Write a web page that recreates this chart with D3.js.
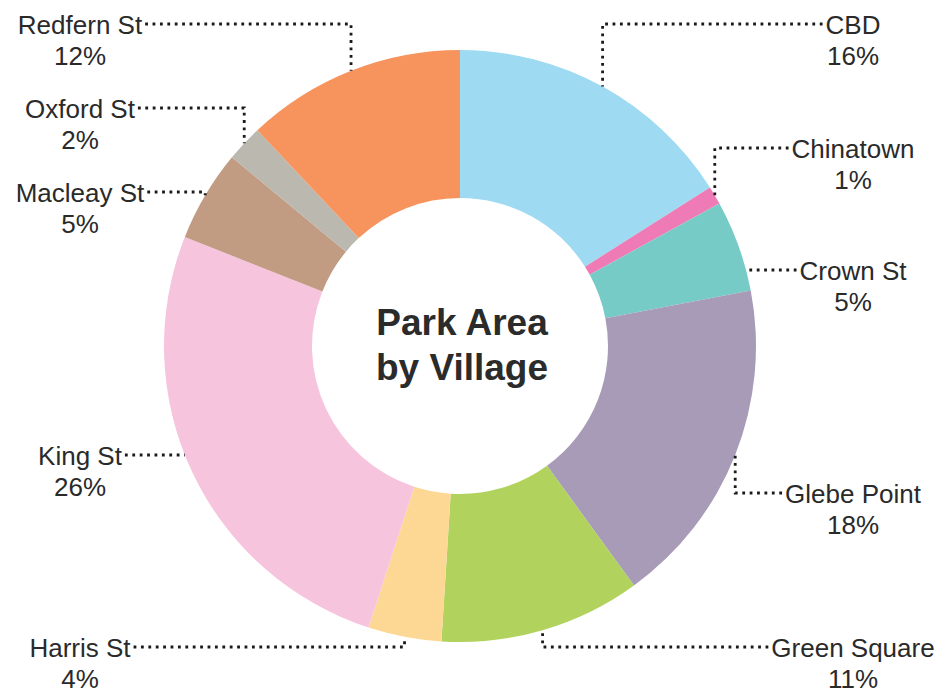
<!DOCTYPE html>
<html>
<head>
<meta charset="utf-8">
<script src="https://cdn.jsdelivr.net/npm/d3@7"></script>
<style>
  html, body { margin: 0; padding: 0; background: #fff; }
  svg { display: block; }
</style>
</head>
<body>
<svg id="chart" width="941" height="691"></svg>
<script>
// Park area share by village (percent of total)
const villages = ["CBD", "Chinatown", "Crown St", "Glebe Point", "Green Square",
                  "Harris St", "King St", "Macleay St", "Oxford St", "Redfern St"];
const shares = [16, 1, 5, 18, 11, 4, 26, 5, 2, 12];
const colours = ["#9edbf3", "#ee7bb5", "#77cbc7", "#a89bb7", "#b1d35d",
                 "#fdd894", "#f7c4de", "#c19c83", "#bbb8b0", "#f7945e"];

// Label placement: column (left/right), line height, and whether the leader bends
const labelSide = ["right", "right", "right", "right", "right",
                   "left", "left", "left", "left", "left"];
const labelY = [24, 148, 270, 493, 647, 647, 455, 192, 108, 24];
const labelBend = [true, true, false, true, true, true, false, true, true, true];

const width = 941, height = 691;
const cx = 460, cy = 346;
const outerR = 296, innerR = 148;
const colX = { left: 80, right: 853 };

const svg = d3.select("#chart");
const g = svg.append("g").attr("transform", `translate(${cx},${cy})`);

const data = villages.map((name, i) => ({ name, value: shares[i], i }));

const pie = d3.pie().value(d => d.value).sort(null);
const arc = d3.arc().innerRadius(innerR).outerRadius(outerR);
const arcs = pie(data);

const colour = d3.scaleOrdinal().domain(villages).range(colours);

g.selectAll("path.slice")
  .data(arcs)
  .join("path")
  .attr("class", "slice")
  .attr("d", arc)
  .attr("fill", d => colour(d.data.name));

// Centre title
const title = g.append("text")
  .attr("text-anchor", "middle")
  .attr("font-family", "'Liberation Sans', Arial, sans-serif")
  .attr("font-weight", "bold")
  .attr("font-size", 37)
  .attr("fill", "#2b2b2b");
title.append("tspan").attr("x", 2).attr("y", -11).text("Park Area");
title.append("tspan").attr("x", 2).attr("y", 34).text("by Village");

// Labels and dotted leaders
const labels = svg.append("g")
  .attr("font-family", "'Liberation Sans', Arial, sans-serif")
  .attr("font-size", 26)
  .attr("fill", "#2a2a2a");

arcs.forEach((a, i) => {
  const side = labelSide[i];
  const ly = labelY[i];
  const lx = colX[side];

  const name = labels.append("text")
    .attr("x", lx).attr("y", ly + 10)
    .attr("text-anchor", "middle")
    .text(a.data.name);
  labels.append("text")
    .attr("x", lx).attr("y", ly + 41)
    .attr("text-anchor", "middle")
    .text(a.data.value + "%");

  const halfW = name.node().getComputedTextLength() / 2;
  const startX = side === "left" ? lx + halfW + 3 : lx - halfW - 3;

  let pts;
  if (labelBend[i]) {
    const mid = (a.startAngle + a.endAngle) / 2;
    const ex = cx + outerR * Math.sin(mid);
    const ey = cy - outerR * Math.cos(mid);
    pts = [[startX, ly], [ex, ly], [ex, ey]];
  } else {
    const dy = ly - cy;
    const dx = Math.sqrt(outerR * outerR - dy * dy);
    const ex = side === "left" ? cx - dx : cx + dx;
    pts = [[startX, ly], [ex, ly]];
  }

  labels.append("path")
    .attr("d", d3.line()(pts))
    .attr("fill", "none")
    .attr("stroke", "#1a1a1a")
    .attr("stroke-width", 2.8)
    .attr("stroke-dasharray", "2.8 4.6");
});
</script>
</body>
</html>
